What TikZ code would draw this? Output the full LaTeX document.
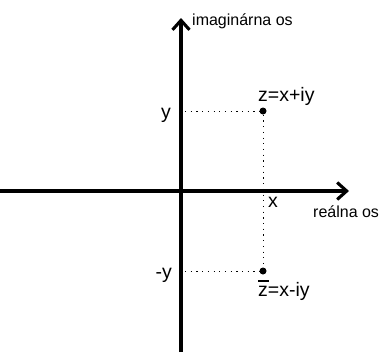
\documentclass[tikz,border=0pt]{standalone}
\usepackage{fontspec}
\setmainfont{Liberation Sans}
\usetikzlibrary{arrows.meta}
\begin{document}
\begin{tikzpicture}[x=1pt,y=-1pt,
  axis/.style={line width=3.1pt,-{Straight Barb[length=9.5pt,width=17pt,line width=3.1pt]}},
  guide/.style={line width=1pt,dash pattern=on 1.2pt off 4.5pt},
  big/.style={font=\fontsize{19.5}{22}\selectfont,inner sep=0pt},
  small/.style={font=\fontsize{16}{18}\selectfont,inner sep=0pt},
  dotpt/.style={circle,fill=black,inner sep=0pt,minimum size=7pt}]
\useasboundingbox (0,0) rectangle (383,356);
% axes
\coordinate (xl) at (0,191);
\coordinate (xr) at (349,191);
\coordinate (yb) at (181,352);
\coordinate (yt) at (181,18);
\draw[axis] (xl) -- (xr);
\draw[axis] (yb) -- (yt);
% points
\node[dotpt] (z) at (263,111) {};
\node[dotpt] (zc) at (263,271) {};
\coordinate (ya) at (185,111);
\coordinate (yca) at (185,271);
\draw[guide] (ya) -- (z);
\draw[guide] (yca) -- (zc);
\draw[guide] (z) -- (zc);
% labels
\node[small,anchor=base west] (im) at (192,25) {imaginárna os};
\node[small,anchor=base west] (re) at (313,217) {reálna os};
\node[big,anchor=base east] (ly) at (171,118) {y};
\node[big,anchor=base east] (lmy) at (172,278) {-y};
\node[big,anchor=base west] (lx) at (268,207) {x};
\node[big,anchor=base west] (lz) at (258,101) {z=x+iy};
\node[big,anchor=base west] (lzc) at (258,296) {\rlap{\rule[14pt]{10.5pt}{1.8pt}}z=x-iy};
\end{tikzpicture}
\end{document}
